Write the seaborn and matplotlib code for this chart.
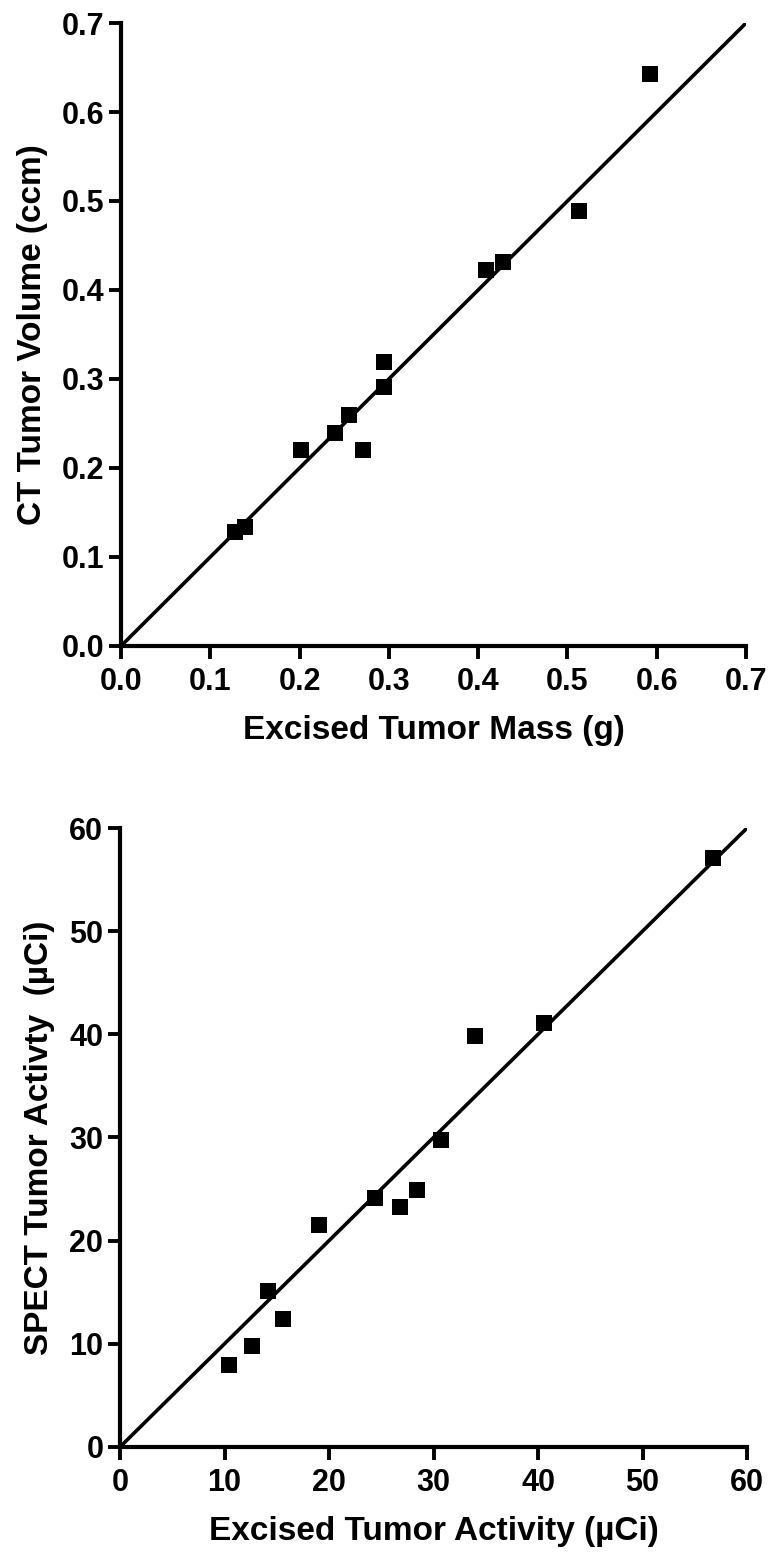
"""
Tumor CT volume vs excised mass, and SPECT activity vs excised activity.
"""

import matplotlib

matplotlib.use("Agg")
import matplotlib.pyplot as plt
import numpy as np
import seaborn as sns

# top panel: excised mass (g) vs CT volume (ccm)
mass_g = [0.128, 0.139, 0.202, 0.240, 0.255, 0.271, 0.294, 0.295, 0.409, 0.428, 0.513, 0.593]
ct_volume = [0.128, 0.134, 0.220, 0.239, 0.259, 0.220, 0.291, 0.319, 0.423, 0.432, 0.489, 0.643]
mass_fit_slope = 1.0
mass_ticks = [0.0, 0.1, 0.2, 0.3, 0.4, 0.5, 0.6, 0.7]

# bottom panel: excised activity vs SPECT activity (uCi)
excised_act = [10.4, 12.6, 14.2, 15.6, 19.0, 24.4, 26.8, 28.4, 30.7, 34.0, 40.6, 56.7]
spect_act = [7.9, 9.8, 15.1, 12.4, 21.5, 24.1, 23.3, 24.9, 29.8, 39.8, 41.1, 57.1]
act_fit_slope = 1.0
act_ticks = [0, 10, 20, 30, 40, 50, 60]

sns.set_style("ticks")
plt.rcParams["font.family"] = ["Liberation Sans", "DejaVu Sans"]
plt.rcParams["font.weight"] = "bold"
for key in ("text.color", "axes.labelcolor", "xtick.color", "ytick.color"):
    plt.rcParams[key] = "black"

fig = plt.figure(figsize=(7.68, 15.55), dpi=100)
ax1 = fig.add_axes([0.1576, 0.5846, 0.8138, 0.4006])
ax2 = fig.add_axes([0.1563, 0.0695, 0.8164, 0.3980])


def panel(ax, x, y, slope, ticks, fmt, xlabel, ylabel):
    lim = ticks[-1]
    line_x = np.array([ticks[0], lim])
    sns.lineplot(x=line_x, y=slope * line_x, ax=ax, color="black", linewidth=2.6)
    sns.scatterplot(x=x, y=y, ax=ax, marker="s", s=140, color="black",
                    edgecolor="black", linewidth=0, clip_on=False, zorder=3)
    ax.set_xlim(ticks[0], lim)
    ax.set_ylim(ticks[0], lim)
    ax.set_xticks(ticks)
    ax.set_yticks(ticks)
    ax.set_xticklabels([fmt.format(t) for t in ticks])
    ax.set_yticklabels([fmt.format(t) for t in ticks])
    ax.tick_params(axis="both", direction="out", length=9, width=2.8,
                   labelsize=22, color="black", labelcolor="black")
    ax.tick_params(axis="x", pad=6)
    ax.tick_params(axis="y", pad=3)
    for lab in ax.get_xticklabels() + ax.get_yticklabels():
        lab.set_fontweight("heavy")
    ax.set_xlabel(xlabel, fontsize=24, fontweight="heavy", labelpad=13)
    ax.set_ylabel(ylabel, fontsize=24, fontweight="bold", labelpad=10)
    sns.despine(ax=ax)
    for side in ("left", "bottom"):
        ax.spines[side].set_linewidth(3.0)
        ax.spines[side].set_color("black")


panel(ax1, mass_g, ct_volume, mass_fit_slope, mass_ticks, "{:.1f}",
      "Excised Tumor Mass (g)", "CT Tumor Volume (ccm)")
panel(ax2, excised_act, spect_act, act_fit_slope, act_ticks, "{:d}",
      "Excised Tumor Activity (µCi)", "SPECT Tumor Activty  (µCi)")

fig.savefig("out.png", dpi=100)
plt.close(fig)
